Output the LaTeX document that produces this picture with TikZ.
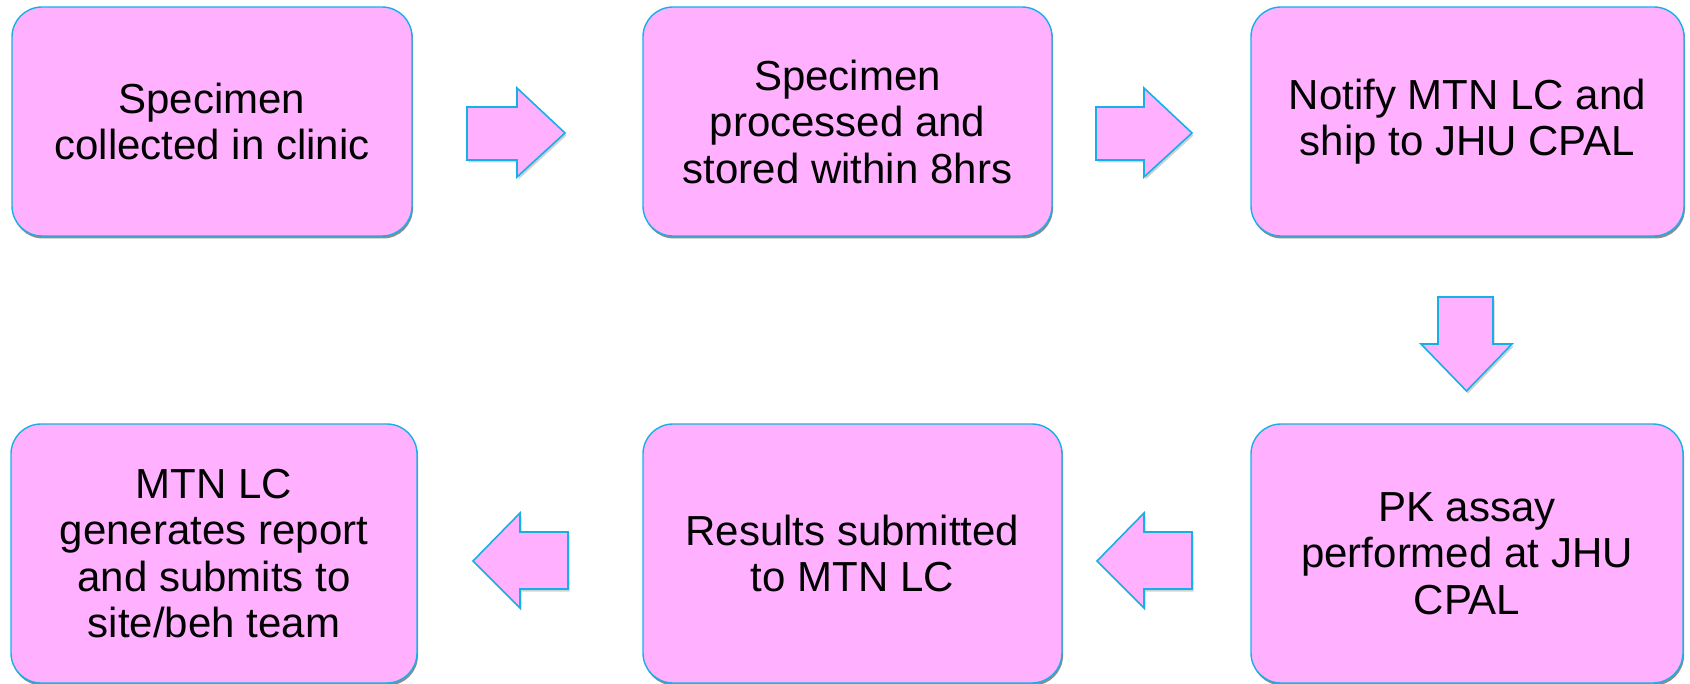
\documentclass[tikz,border=0pt]{standalone}
\usepackage{fontspec}
\setmainfont{Liberation Sans}
\usetikzlibrary{shadows}
\definecolor{pinkfill}{RGB}{255,176,255}
\definecolor{cyanline}{RGB}{22,176,232}
\begin{document}
\begin{tikzpicture}[x=1pt,y=-1pt,
  stepbox/.style={draw=cyanline, line width=1.4pt, fill=pinkfill, rounded corners=30pt,
    inner sep=0pt, align=center,
    font=\fontsize{42}{46.5}\selectfont,
    drop shadow={shadow xshift=1pt, shadow yshift=-2.5pt, opacity=0.6, fill=black!75}},
  blockarrow/.style={draw=cyanline, line width=1.6pt, fill=pinkfill, line join=miter,
    drop shadow={shadow xshift=1.5pt, shadow yshift=-2.5pt, opacity=0.3, fill=black!60}}]
\useasboundingbox (0,0) rectangle (1690,684);

% top row
\node[stepbox, minimum width=400pt, minimum height=229pt] (b1) at (212,121.5)
  {Specimen\\collected in clinic};
\node[stepbox, minimum width=409pt, minimum height=229pt] (b2) at (847.5,121.5)
  {Specimen\\processed and\\stored within 8hrs};
\node[stepbox, minimum width=433pt, minimum height=229pt] (b3) at (1467.5,121.5)
  {Notify MTN LC and\\ship to JHU CPAL};

% bottom row
\node[stepbox, minimum width=406pt, minimum height=259pt] (b4) at (214,553.5)
  {MTN LC\\generates report\\and submits to\\site/beh team};
\node[stepbox, minimum width=419pt, minimum height=259pt] (b5) at (852.5,553.5)
  {Results submitted\\to MTN LC};
\node[stepbox, minimum width=432pt, minimum height=259pt] (b6) at (1467,553.5)
  {PK assay\\performed at JHU\\CPAL};

% block arrows
\draw[blockarrow] (467,107) -- (517,107) -- (517,88) -- (565,133) -- (517,177)
  -- (517,160) -- (467,160) -- cycle;
\draw[blockarrow] (1096,107) -- (1144,107) -- (1144,88) -- (1192,133) -- (1144,177)
  -- (1144,160) -- (1096,160) -- cycle;
\draw[blockarrow] (1438,297) -- (1493,297) -- (1493,344) -- (1512,344) -- (1466.5,391)
  -- (1421,344) -- (1438,344) -- cycle;
\draw[blockarrow] (1192,532) -- (1144,532) -- (1144,513) -- (1097,561) -- (1144,608)
  -- (1144,589) -- (1192,589) -- cycle;
\draw[blockarrow] (568,532) -- (520,532) -- (520,513) -- (473,561) -- (520,608)
  -- (520,589) -- (568,589) -- cycle;
\end{tikzpicture}
\end{document}
